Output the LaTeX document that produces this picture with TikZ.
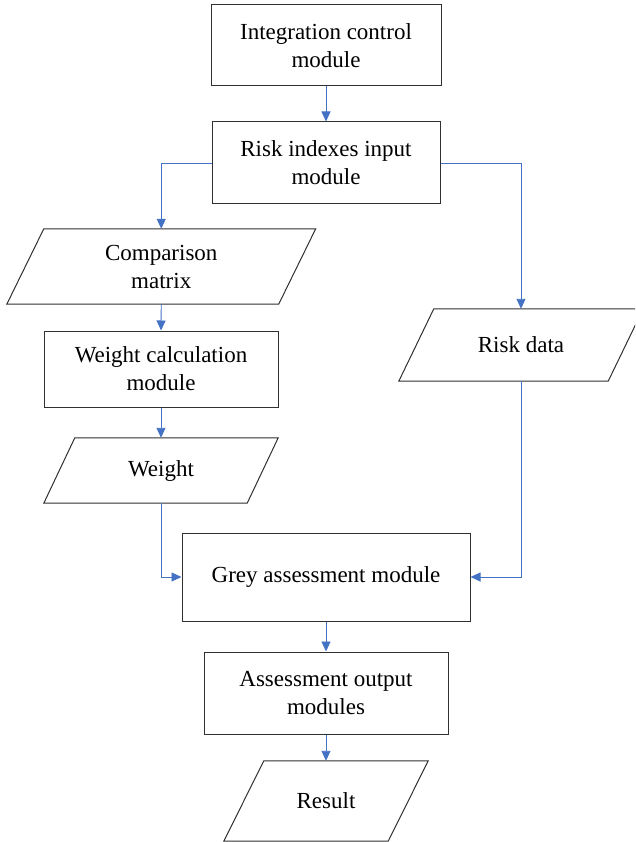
\documentclass[tikz,border=0pt]{standalone}
\usepackage{fontspec}
\setmainfont{Liberation Serif}
\usetikzlibrary{arrows.meta,calc}
\definecolor{flowblue}{HTML}{4472C4}
\definecolor{boxline}{HTML}{303030}
\tikzset{
  every node/.style={font=\fontsize{23}{28}\selectfont, align=center, inner sep=0pt},
  module/.style={draw=boxline, line width=1pt, fill=white, rectangle},
  iobox/.style={rectangle},
  para/.style={draw=boxline, line width=1pt, fill=white},
  flow/.style={draw=flowblue, line width=0.9pt, -{Triangle[length=10pt,width=9pt]}},
}
\begin{document}
\begin{tikzpicture}[x=1pt,y=-1pt]
\useasboundingbox (0,0) rectangle (635,842);
\clip (0,0) rectangle (635,842);

% process modules
\node[module, minimum width=230pt, minimum height=81pt] (ic) at (326,45.5)
  {Integration control\\module};
\node[module, minimum width=228pt, minimum height=82pt] (ri) at (326,163)
  {Risk indexes input\\module};
\node[module, minimum width=234pt, minimum height=76pt] (wc) at (161,369)
  {Weight calculation\\module};
\node[module, minimum width=288pt, minimum height=88pt] (ga) at (326,577)
  {Grey assessment module};
\node[module, minimum width=244pt, minimum height=82pt] (ao) at (326,693)
  {Assessment output\\modules};

% data nodes: an invisible frame, the slanted outline around it, then the text
\node[iobox, minimum width=271.5pt, minimum height=75pt] (cm) at (161.25,266.5) {};
\draw[para] ($(cm.south west)+(-18.5,0)$) -- ($(cm.south east)+(-18.5,0)$)
  -- ($(cm.north east)+(18.5,0)$) -- ($(cm.north west)+(18.5,0)$) -- cycle;
\node at (cm.center) {Comparison\\matrix};

\node[iobox, minimum width=203pt, minimum height=65pt] (wt) at (161,470.5) {};
\draw[para] ($(wt.south west)+(-15.5,0)$) -- ($(wt.south east)+(-15.5,0)$)
  -- ($(wt.north east)+(15.5,0)$) -- ($(wt.north west)+(15.5,0)$) -- cycle;
\node at (wt.center) {Weight};

\node[iobox, minimum width=209pt, minimum height=72pt] (rd) at (521,345) {};
\draw[para] ($(rd.south west)+(-17.5,0)$) -- ($(rd.south east)+(-17.5,0)$)
  -- ($(rd.north east)+(17.5,0)$) -- ($(rd.north west)+(17.5,0)$) -- cycle;
\node at (rd.center) {Risk data};

\node[iobox, minimum width=164pt, minimum height=80pt] (rs) at (326,801) {};
\draw[para] ($(rs.south west)+(-20,0)$) -- ($(rs.south east)+(-20,0)$)
  -- ($(rs.north east)+(20,0)$) -- ($(rs.north west)+(20,0)$) -- cycle;
\node at (rs.center) {Result};

% connectors
\draw[flow] (ic.south) -- (ri.north);
\draw[flow] (ri.west) -| (cm.north);
\draw[flow] (ri.east) -| (rd.north);
\draw[flow] (cm.south) -- (wc.north);
\draw[flow] (wc.south) -- (wt.north);
\draw[flow] (wt.south) |- (ga.west);
\draw[flow] (rd.south) |- (ga.east);
\draw[flow] (ga.south) -- (ao.north);
\draw[flow] (ao.south) -- (rs.north);
\end{tikzpicture}
\end{document}
